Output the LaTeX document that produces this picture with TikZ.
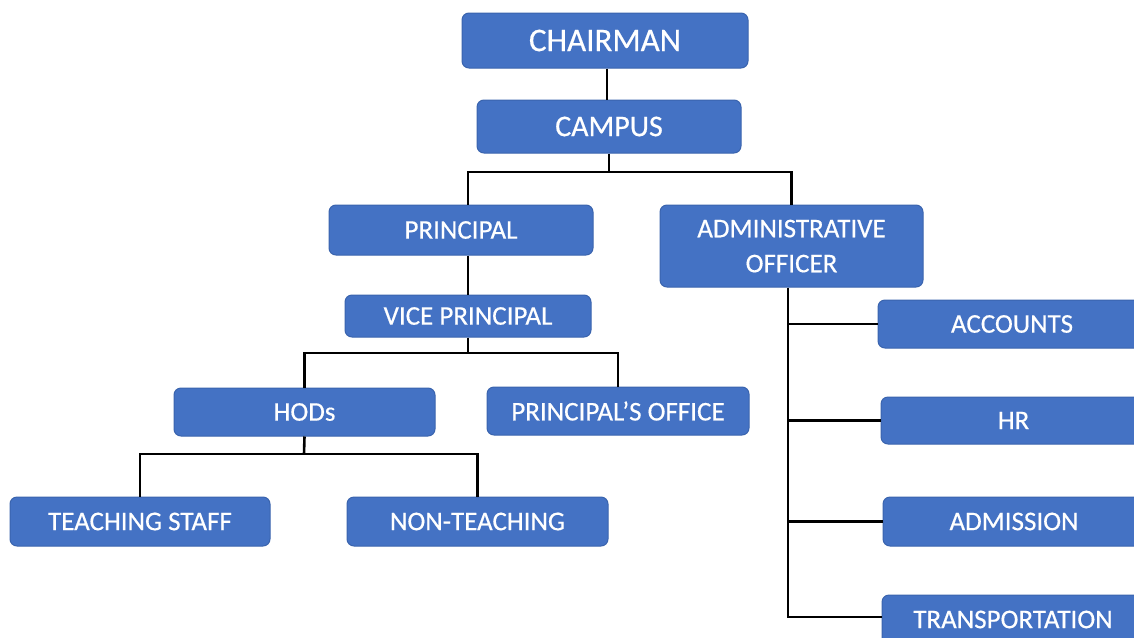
\documentclass[tikz,border=0pt]{standalone}
\usepackage{fontspec}
\setmainfont{Carlito}
\newfontfamily\boxfont{Carlito}[FakeBold=0.5]
\definecolor{boxblue}{HTML}{4472C4}
\definecolor{boxedge}{HTML}{3A64AE}
\tikzset{
  orgbox/.style={rectangle, rounded corners=7pt, fill=boxblue, draw=boxedge, line width=1pt,
    text=white, font=\boxfont\fontsize{27}{35}\selectfont, align=center, inner sep=0pt},
  link/.style={draw=black, line width=2.6pt}
}
\begin{document}
\begin{tikzpicture}[x=1pt,y=-1pt]
\clip (0,0) rectangle (1134,637);
\fill[white] (0,0) rectangle (1134,637);
\node[orgbox, minimum width=286, minimum height=55, font=\boxfont\fontsize{33}{35}\selectfont] (chair) at (605,40.5) {CHAIRMAN};
\node[orgbox, minimum width=264, minimum height=53, font=\boxfont\fontsize{30}{35}\selectfont] (campus) at (609,126.5) {CAMPUS};
\node[orgbox, minimum width=264, minimum height=50] (principal) at (461,230) {PRINCIPAL};
\node[orgbox, minimum width=263, minimum height=82, text depth=-4pt] (admin) at (791.5,246) {ADMINISTRATIVE\\OFFICER};
\node[orgbox, minimum width=246, minimum height=42] (vp) at (468,316) {VICE PRINCIPAL};
\node[orgbox, minimum width=261, minimum height=48] (hods) at (304.5,412) {HODs};
\node[orgbox, minimum width=262, minimum height=48] (poffice) at (618,411) {PRINCIPAL’S OFFICE};
\node[orgbox, minimum width=260, minimum height=49] (teach) at (140,521.5) {TEACHING STAFF};
\node[orgbox, minimum width=261, minimum height=49] (nonteach) at (477.5,521.5) {NON-TEACHING};
\node[orgbox, minimum width=268, minimum height=48] (accounts) at (1012,324) {ACCOUNTS};
\node[orgbox, minimum width=265, minimum height=47] (hr) at (1013.5,420.5) {HR};
\node[orgbox, minimum width=262, minimum height=49] (admission) at (1014,521.5) {ADMISSION};
\node[orgbox, minimum width=262, minimum height=49] (transport) at (1013,619.5) {TRANSPORTATION};
% connectors
\coordinate (b1) at (609,172);
\coordinate (b2) at (468,353);
\coordinate (b3) at (304,454);
\coordinate (b4) at (788,617);
\draw[link] ([xshift=2pt]chair.south) -- ([xshift=-2pt]campus.north);
\draw[link] (campus.south) -- (b1);
\draw[link] ([xshift=7pt]principal.north) |- (b1) -| (admin.north);
\draw[link] ([xshift=7pt]principal.south) -- (vp.north);
\draw[link] (vp.south) -- (b2);
\draw[link] (hods.north) |- (b2) -| (poffice.north);
\draw[link] (hods.south) -- (b3);
\draw[link] (teach.north) |- (b3) -| (nonteach.north);
\draw[link] ([xshift=-3.5pt]admin.south) -- (b4) -- (b4 -| transport.west);
\draw[link] (accounts.west) -- (accounts.west -| b4);
\draw[link] (hr.west) -- (hr.west -| b4);
\draw[link] (admission.west) -- (admission.west -| b4);
\end{tikzpicture}
\end{document}
